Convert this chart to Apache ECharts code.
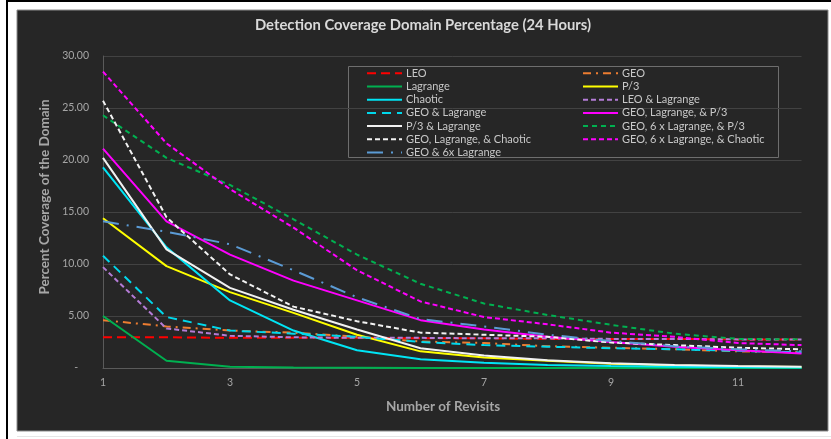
<!DOCTYPE html>
<html>
<head>
<meta charset="utf-8">
<script src="https://cdn.jsdelivr.net/npm/echarts@6/dist/echarts.min.js"></script>
<style>
html,body{margin:0;padding:0;background:#fff;}
#chart{width:831px;height:439px;}
</style>
</head>
<body>
<div id="chart"></div>
<script>
const revisits = ['1','2','3','4','5','6','7','8','9','10','11','12'];
const titleText = 'Detection Coverage Domain Percentage (24 Hours)';
const xAxisTitle = 'Number of Revisits';
const yAxisTitle = 'Percent Coverage of the Domain';

const leo            = [2.95, 2.95, 2.9, 2.9, 2.9, 2.85, 2.85, 2.8, 2.8, 2.8, 2.75, 2.75];
const geo            = [4.6, 4.0, 3.6, 3.4, 3.0, 2.55, 2.4, 2.1, 1.95, 1.8, 1.6, 1.5];
const lagrange       = [5.0, 0.7, 0.12, 0.04, 0.02, 0.01, 0, 0, 0, 0, 0, 0];
const p3             = [14.4, 9.8, 7.3, 5.3, 3.2, 1.6, 1.0, 0.7, 0.4, 0.25, 0.15, 0.1];
const chaotic        = [19.3, 11.6, 6.5, 3.6, 1.7, 0.85, 0.5, 0.3, 0.2, 0.12, 0.08, 0.05];
const leoLag         = [9.7, 3.8, 3.1, 2.95, 2.9, 2.9, 2.85, 2.85, 2.8, 2.8, 2.75, 2.75];
const geoLag         = [10.8, 4.9, 3.6, 3.3, 3.0, 2.5, 2.2, 2.05, 1.9, 1.8, 1.65, 1.5];
const geoLagP3       = [21.1, 14.1, 10.9, 8.4, 6.5, 4.6, 3.7, 3.0, 2.5, 2.05, 1.7, 1.4];
const p3Lag          = [20.2, 11.4, 7.7, 5.6, 3.7, 1.9, 1.2, 0.75, 0.45, 0.3, 0.2, 0.12];
const geo6LagP3      = [24.3, 20.2, 17.6, 14.3, 10.9, 8.1, 6.2, 5.1, 4.15, 3.3, 2.8, 2.75];
const geoLagChaotic  = [25.7, 14.5, 9.0, 5.9, 4.5, 3.4, 3.2, 3.0, 2.45, 2.2, 1.95, 1.8];
const geo6LagChaotic = [28.5, 21.6, 17.2, 13.5, 9.4, 6.4, 4.9, 4.2, 3.4, 3.0, 2.4, 2.2];
const geo6Lag        = [14.1, 13.1, 11.9, 9.4, 6.8, 4.7, 4.0, 3.2, 2.6, 2.1, 1.8, 1.6];

const seriesDefs = [
  {name:'LEO', data:leo, color:'#ff0000', dash:[9,5]},
  {name:'GEO', data:geo, color:'#ed7d31', dash:[8,5,2,5]},
  {name:'Lagrange', data:lagrange, color:'#00b050', dash:null},
  {name:'P/3', data:p3, color:'#ffff00', dash:null},
  {name:'Chaotic', data:chaotic, color:'#00e5f5', dash:null},
  {name:'LEO & Lagrange', data:leoLag, color:'#b47cd6', dash:[5,3]},
  {name:'GEO & Lagrange', data:geoLag, color:'#00d8ec', dash:[9,6]},
  {name:'GEO, Lagrange, & P/3', data:geoLagP3, color:'#ff00ff', dash:null},
  {name:'P/3 & Lagrange', data:p3Lag, color:'#f2f2f2', dash:null},
  {name:'GEO, 6 x Lagrange, & P/3', data:geo6LagP3, color:'#00b050', dash:[5,4]},
  {name:'GEO, Lagrange, & Chaotic', data:geoLagChaotic, color:'#f2f2f2', dash:[5,3]},
  {name:'GEO, 6 x Lagrange, & Chaotic', data:geo6LagChaotic, color:'#ff00ff', dash:[5,3]},
  {name:'GEO & 6x Lagrange', data:geo6Lag, color:'#5b9bd5', dash:[16,8,2,8]}
];

const leftCol = seriesDefs.filter((s,i)=>i%2===0).map(s=>s.name);
const rightCol = seriesDefs.filter((s,i)=>i%2===1).map(s=>s.name);

const chart = echarts.init(document.getElementById('chart'), null, {renderer:'canvas'});
const FONT = 'Lato, "Liberation Sans", sans-serif';
const legendCommon = {
  orient:'vertical', top:67.3, padding:0, itemWidth:35, itemHeight:8, itemGap:1.2,
  itemStyle:{opacity:0},
  textStyle:{color:'#c8c8c8', fontSize:11, lineHeight:12, fontFamily:FONT, padding:[0,0,0,-1]},
  inactiveColor:'#777'
};
chart.setOption({
  backgroundColor:'#ffffff',
  animation:false,
  graphic:[
    {type:'rect', z:-10, shape:{x:17, y:10, width:811, height:421}, style:{fill:'#262626', stroke:'#8c8c8c', lineWidth:1}},
    {type:'line', z:-10, shape:{x1:7, y1:1, x2:831, y2:1}, style:{stroke:'#000', lineWidth:2}},
    {type:'line', z:-10, shape:{x1:7, y1:0, x2:7, y2:439}, style:{stroke:'#000', lineWidth:2}},
    {type:'line', z:-10, shape:{x1:17, y1:436.5, x2:831, y2:436.5}, style:{stroke:'#e6e6e6', lineWidth:1}},
    {type:'rect', z:-5, shape:{x:348.5, y:66.5, width:430, height:91}, style:{fill:'#262626', stroke:'#6e6e6e', lineWidth:1}},
    {type:'text', x:423, y:25, style:{text:titleText, fill:'#d9d9d9', font:'bold 14.8px '+FONT, align:'center', verticalAlign:'middle'}},
    {type:'text', x:443, y:407, style:{text:xAxisTitle, fill:'#a6a6a6', font:'bold 13.5px '+FONT, align:'center', verticalAlign:'middle'}},
    {type:'text', x:45, y:197, rotation:Math.PI/2, style:{text:yAxisTitle, fill:'#a6a6a6', font:'bold 13.5px '+FONT, align:'center', verticalAlign:'middle'}}
  ],
  legend:[
    Object.assign({}, legendCommon, {left:366, data:leftCol}),
    Object.assign({}, legendCommon, {left:582, data:rightCol})
  ],
  grid:{left:103, right:29.5, top:56, bottom:71, containLabel:false},
  xAxis:{
    type:'category', data:revisits, boundaryGap:false,
    axisLine:{show:true, lineStyle:{color:'#5a5a5a', width:1}},
    axisTick:{show:false},
    axisLabel:{interval:1, color:'#a6a6a6', fontSize:10.5, fontFamily:FONT, margin:9},
    splitLine:{show:false}
  },
  yAxis:{
    type:'value', min:0, max:30, interval:5,
    axisLine:{show:true, lineStyle:{color:'#5a5a5a', width:1}},
    axisTick:{show:false},
    axisLabel:{color:'#a6a6a6', fontSize:10.5, fontFamily:FONT, margin:14,
      formatter:v=> v===0 ? '-    ' : v.toFixed(2)},
    splitLine:{show:true, lineStyle:{color:'#424242', width:1}}
  },
  series: seriesDefs.map(s=>({
    name:s.name, type:'line', data:s.data, symbol:'none', smooth:false,
    lineStyle:{color:s.color, width:2, type: s.dash ? s.dash : 'solid'},
    itemStyle:{color:s.color}
  }))
});
</script>
</body>
</html>
